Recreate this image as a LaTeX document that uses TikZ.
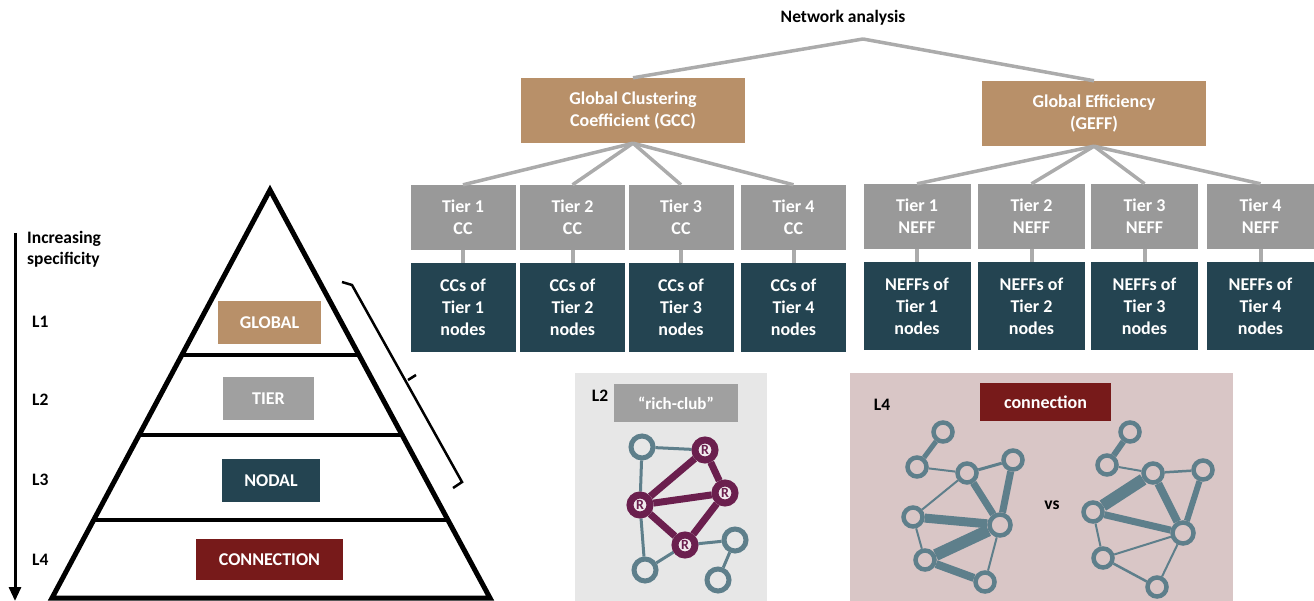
\documentclass[tikz,border=0pt]{standalone}
\usepackage{fontspec}
\setmainfont{Carlito}
\usetikzlibrary{arrows.meta}
\usetikzlibrary{backgrounds}
\definecolor{tan1}{RGB}{184,144,105}
\definecolor{grey1}{RGB}{153,153,153}
\definecolor{grey2}{RGB}{160,160,160}
\definecolor{line1}{RGB}{171,171,171}
\definecolor{teal1}{RGB}{36,68,81}
\definecolor{red1}{RGB}{119,26,26}
\definecolor{net1}{RGB}{94,127,139}
\definecolor{purple1}{RGB}{107,31,78}
\definecolor{panel1}{RGB}{231,231,231}
\definecolor{panel2}{RGB}{217,198,198}

\tikzset{
  box/.style={rectangle, inner sep=0pt, text=white, align=center,
    font=\bfseries\fontsize{18}{22}\selectfont},
  tanbox/.style={box, fill=tan1, minimum width=224pt, minimum height=65pt},
  tierbox/.style={box, fill=grey1, minimum width=105pt, minimum height=65pt},
  darkbox/.style={box, fill=teal1, minimum width=105pt, minimum height=89pt},
  levelbox/.style={box, minimum height=43pt},
  plain/.style={inner sep=0pt, font=\bfseries\fontsize{17.5}{21}\selectfont},
  treeline/.style={draw=line1, line width=3.5pt},
  ring/.style={circle, draw=net1, fill=#1, line width=4.5pt, inner sep=0pt, minimum size=19pt},
  rich/.style={circle, draw=purple1, fill=white!90!purple1, line width=7pt, inner sep=0pt,
    minimum size=20pt, text=purple1, font=\bfseries\fontsize{14}{14}\selectfont},
}

\begin{document}
\begin{tikzpicture}[x=1pt, y=-1pt]
\useasboundingbox (0,0) rectangle (1314,601);

% panels
\begin{scope}[on background layer]
  \fill[panel1] (575,373) rectangle (767,601);
  \fill[panel2] (850,373) rectangle (1233,601);
\end{scope}

% tree of measures
\node[plain] (root) at (843,18) {Network analysis};
\coordinate (split) at (863,39);
\node[tanbox] (gcc) at (633,110.5) {Global Clustering\\Coefficient (GCC)};
\node[tanbox] (geff) at (1094,113.5) {Global Efficiency\\(GEFF)};
\draw[treeline] (split) -- (gcc.north);
\draw[treeline] (split) -- (geff.north);
\foreach \i/\x in {1/463,2/572.5,3/681,4/793.5} {
  \node[tierbox] (cc\i) at (\x,217.5) {Tier \i\\CC};
  \node[darkbox] (ccn\i) at (\x,307.5) {CCs of\\Tier \i\\nodes};
  \draw[treeline] (gcc.south) -- (cc\i.north);
  \draw[treeline, line width=4pt] (cc\i.south) -- (ccn\i.north);
}
\foreach \i/\x in {1/917,2/1031.5,3/1144.5,4/1260.5} {
  \node[tierbox, minimum width=107pt] (neff\i) at (\x,216.5) {Tier \i\\NEFF};
  \node[darkbox, minimum width=107pt, minimum height=88pt] (neffn\i) at (\x,306) {NEFFs of\\Tier \i\\nodes};
  \draw[treeline] (geff.south) -- (neff\i.north);
  \draw[treeline, line width=4pt] (neff\i.south) -- (neffn\i.north);
}

% pyramid
\draw[line width=5pt] (52,598) -- (270,190) -- (490,598) -- cycle;
\draw[line width=4.5pt] (182,355) -- (359,355);
\draw[line width=4.5pt] (139,435) -- (402,435);
\draw[line width=4.5pt] (94,520) -- (447,520);
\node[levelbox, fill=tan1, minimum width=103pt] (global) at (269.5,322.5) {GLOBAL};
\node[levelbox, fill=grey2, minimum width=91pt] (tier) at (268.5,398.5) {TIER};
\node[levelbox, fill=teal1, minimum width=98pt] (nodal) at (271,480.5) {NODAL};
\node[levelbox, fill=red1, minimum width=147pt, minimum height=41pt] (conn) at (269.5,559.5) {CONNECTION};
\draw[line width=2.5pt] (342,282) -- (352,285) -- (462,482) -- (453,488);
\draw[line width=2.5pt] (408,380) -- (416,375);

% specificity axis
\coordinate (spectop) at (15,233);
\coordinate (specbot) at (15,601);
\draw[line width=3pt, -{Triangle[length=14pt,width=12pt]}] (spectop) -- (specbot);
\node[plain, anchor=north west, align=left] (spec) at (27,231) {Increasing\\specificity};
\node[plain, anchor=west] (l1) at (32,322) {L1};
\node[plain, anchor=west] (l2) at (32,400) {L2};
\node[plain, anchor=west] (l3) at (32,480) {L3};
\node[plain, anchor=west] (l4) at (32,560) {L4};

% rich-club panel
\node[plain] (l2b) at (600,396) {L2};
\node[box, fill=grey2, minimum width=124pt, minimum height=38pt, font=\bfseries\fontsize{17}{17}\selectfont] (rc) at (676,403) {“rich-club”};
\node[ring=panel1, minimum size=22pt, line width=5pt] (a) at (642,447) {};
\node[rich] (r1) at (705,450) {R};
\node[rich] (r2) at (725,493) {R};
\node[rich] (r3) at (640,505) {R};
\node[rich] (r4) at (685,545) {R};
\node[ring=panel1, minimum size=22pt, line width=5pt] (b) at (645,570) {};
\node[ring=panel1, minimum size=22pt, line width=5pt] (c) at (735,540) {};
\node[ring=panel1, minimum size=22pt, line width=5pt] (d) at (718,580) {};
\begin{scope}[on background layer]
  \foreach \from/\to in {a/r1, a/r3, r3/b, b/r4, r4/c, c/d}
    \draw[draw=net1, line width=3pt] (\from) -- (\to);
  \foreach \from/\to in {r1/r2, r1/r3, r3/r2, r3/r4, r2/r4}
    \draw[draw=purple1, line width=7pt] (\from) -- (\to);
\end{scope}

% connection panel
\node[plain] (l4b) at (882,405) {L4};
\node[box, fill=red1, minimum width=131pt, minimum height=38pt] (cn) at (1045.5,402) {connection};
\node[plain] (vs) at (1052,505) {vs};
\node[ring=panel2] (n1) at (943,432) {};
\node[ring=panel2] (n2) at (917,467) {};
\node[ring=panel2] (n3) at (967,473) {};
\node[ring=panel2] (n4) at (1013,460) {};
\node[ring=panel2] (n5) at (913,517) {};
\node[ring=panel2, minimum size=21pt] (n6) at (1000,525) {};
\node[ring=panel2] (n7) at (925,560) {};
\node[ring=panel2] (n8) at (985,582) {};
\node[ring=panel2] (m1) at (1130,432) {};
\node[ring=panel2] (m2) at (1107,465) {};
\node[ring=panel2] (m3) at (1153,473) {};
\node[ring=panel2] (m4) at (1203,470) {};
\node[ring=panel2] (m5) at (1093,512) {};
\node[ring=panel2, minimum size=21pt] (m6) at (1183,533) {};
\node[ring=panel2] (m7) at (1103,558) {};
\node[ring=panel2] (m8) at (1157,587) {};
\begin{scope}[on background layer]
  \foreach \from/\to/\w in {n1/n2/5, n2/n3/2, n3/n4/3, n3/n5/2, n3/n6/7, n4/n6/7,
      n5/n6/9, n5/n7/2, n7/n6/12, n7/n8/8, n6/n8/2,
      m1/m2/6, m2/m3/2, m3/m4/2.5, m3/m5/12, m3/m6/8, m4/m6/6, m5/m6/7,
      m5/m7/2, m7/m6/2, m7/m8/2.5, m6/m8/2}
    \draw[draw=net1, line width=\w pt] (\from) -- (\to);
\end{scope}
\end{tikzpicture}
\end{document}
